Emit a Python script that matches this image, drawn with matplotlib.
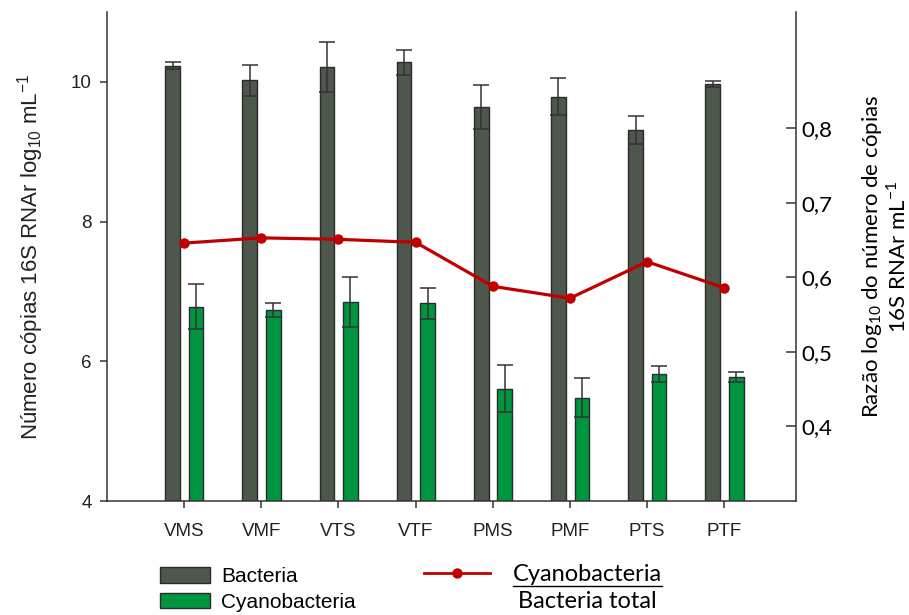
import numpy as np
import matplotlib
matplotlib.use("Agg")
import matplotlib.pyplot as plt
from matplotlib.lines import Line2D

plt.rcParams["font.family"] = ["Liberation Sans", "DejaVu Sans"]
plt.rcParams["mathtext.fontset"] = "custom"
plt.rcParams["mathtext.rm"] = "Liberation Sans"
plt.rcParams["mathtext.it"] = "Liberation Sans"

samples = ["VMS", "VMF", "VTS", "VTF", "PMS", "PMF", "PTS", "PTF"]
bacteria = [10.23, 10.02, 10.21, 10.28, 9.64, 9.79, 9.31, 9.97]
bacteria_err = [0.05, 0.22, 0.36, 0.18, 0.32, 0.27, 0.20, 0.04]
cyano = [6.78, 6.74, 6.85, 6.83, 5.61, 5.48, 5.82, 5.77]
cyano_err = [0.32, 0.10, 0.36, 0.22, 0.33, 0.28, 0.11, 0.07]
ratio = [0.646, 0.653, 0.651, 0.647, 0.588, 0.572, 0.621, 0.586]

right_ticks = [0.4, 0.5, 0.6, 0.7, 0.8]
right_ticklabels = ["0,4", "0,5", "0,6", "0,7", "0,8"]

calibri = "Lato"
axis_color = "#333333"

figure = plt.figure(figsize=(9.09, 6.15), dpi=100)
axes = figure.add_axes([107 / 909, 1 - 501 / 615, (796 - 107) / 909, (501 - 12) / 615])

x = np.arange(1, len(samples) + 1)
error_style = {"ecolor": axis_color, "elinewidth": 1.1, "capthick": 1.1}

axes.bar(x - 0.15, bacteria, 0.19, color="#4d574b", edgecolor="#2a2a2a",
         linewidth=1.0, yerr=bacteria_err, capsize=5.5, error_kw=error_style,
         label="Bacteria")
axes.bar(x + 0.155, cyano, 0.19, color="#009640", edgecolor="#2a2a2a",
         linewidth=1.0, yerr=cyano_err, capsize=5.5, error_kw=error_style,
         label="Cyanobacteria")

axes.set_xlim(0.0, 8.93)
axes.set_ylim(4, 11)
axes.set_xticks(x)
axes.set_xticklabels(samples)
axes.set_yticks([4, 6, 8, 10])
axes.tick_params(axis="both", direction="out", length=5, width=1.1,
                 color=axis_color, labelsize=13.5, labelcolor="#222222")
axes.tick_params(axis="x", pad=11)
axes.tick_params(axis="y", pad=6)

for side in ["top", "right"]:
    axes.spines[side].set_visible(False)
for side in ["left", "bottom"]:
    axes.spines[side].set_color(axis_color)
    axes.spines[side].set_linewidth(1.1)

axes.set_ylabel(r"Número cópias 16S RNAr log$_{10}$ mL$^{-1}$", fontsize=16,
                color="#222222", labelpad=18)

twin = axes.twinx()
twin.set_ylim(0.3, 0.956)
twin.plot(x, ratio, color="#c00000", linewidth=2.3, marker="o", markersize=6.5)
twin.set_yticks(right_ticks)
twin.set_yticklabels(right_ticklabels, fontfamily=calibri)
twin.tick_params(axis="y", direction="in", length=7, width=1.1,
                 color=axis_color, labelsize=16, pad=4)
for side in ["top", "left", "bottom"]:
    twin.spines[side].set_visible(False)
twin.spines["right"].set_color(axis_color)
twin.spines["right"].set_linewidth(1.1)

twin.set_ylabel("Razão log$_{\\mathregular{10}}$ do número de cópias\n"
                "16S RNAr mL$^{\\mathregular{-1}}$",
                fontfamily=calibri, fontsize=16, rotation=90, labelpad=20,
                linespacing=1.05)

bar_legend = figure.legend(
    *axes.get_legend_handles_labels(),
    loc="upper left", bbox_to_anchor=(160 / 909, 1 - 567 / 615),
    frameon=False, fontsize=15, handlelength=2.4, handleheight=0.78,
    handletextpad=0.55, labelspacing=0.32, borderpad=0, borderaxespad=0
)
for patch in bar_legend.get_patches():
    patch.set_edgecolor("#2a2a2a")

line_handle = Line2D([], [], color="#c00000", linewidth=2.0, marker="o",
                     markersize=6.5)
line_legend = figure.legend(
    [line_handle], ["Cyanobacteria"],
    loc="upper left", bbox_to_anchor=(424 / 909, 1 - 564 / 615),
    frameon=False, prop={"family": calibri, "size": 17},
    handlelength=2.8, handletextpad=0.95, borderpad=0, borderaxespad=0
)

figure.canvas.draw()
renderer = figure.canvas.get_renderer()
box = line_legend.get_texts()[0].get_window_extent(renderer)
box = box.transformed(figure.transFigure.inverted())
underline_y = box.y0 - 1.0 / 615
figure.add_artist(Line2D([box.x0, box.x1], [underline_y, underline_y],
                         transform=figure.transFigure, color="black",
                         linewidth=1.0))
figure.text((box.x0 + box.x1) / 2, underline_y - 5 / 615, "Bacteria total",
            ha="center", va="top", family=calibri, fontsize=17)

figure.savefig("out.png", dpi=100)
